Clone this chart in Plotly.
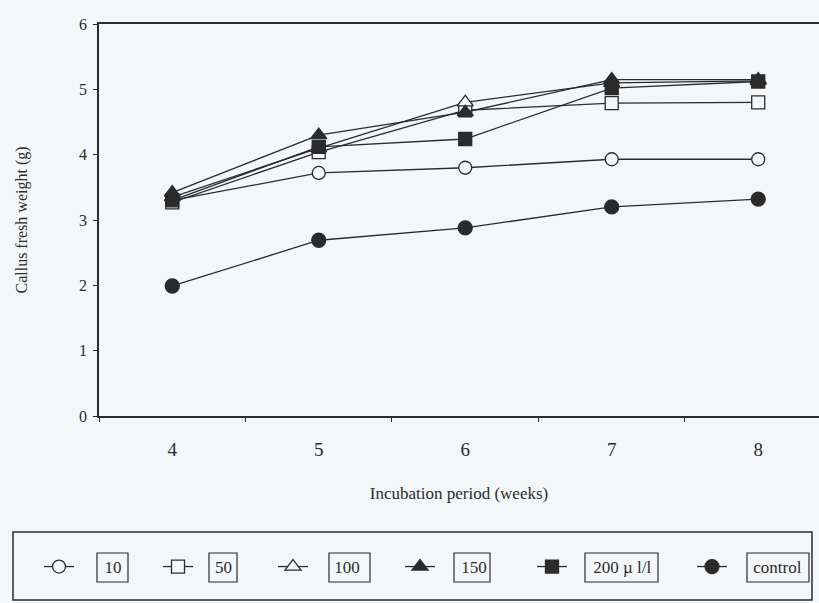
import plotly.graph_objects as go

# ---- data ----
weeks = ["4", "5", "6", "7", "8"]
s10 = [3.30, 3.72, 3.80, 3.93, 3.93]
s50 = [3.27, 4.04, 4.68, 4.79, 4.80]
s100 = [3.35, 4.10, 4.80, 5.10, 5.13]
s150 = [3.42, 4.30, 4.65, 5.15, 5.15]
s200 = [3.30, 4.12, 4.24, 5.02, 5.12]
control = [1.99, 2.69, 2.88, 3.20, 3.32]
labels = ["10", "50", "100", "150", "200 \u00b5 l/l", "control"]
y_ticks = [0, 1, 2, 3, 4, 5, 6]

W, H = 819, 603
ML, MR, MT, MB = 99, 0, 24, 187
PW, PH = W - ML - MR, H - MT - MB
BG = "#f4f7f9"
INK = "#2b2b2b"
FONT = "Liberation Serif"


def px_x(px):
    return (px - ML) / PW


def px_y(py):
    return (H - MB - py) / PH


series = [s10, s50, s100, s150, s200, control]
symbols = ["circle-open", "square-open", "triangle-up-open", "triangle-up", "square", "circle"]
msizes = [13, 13, 14, 14, 13, 14]
lwidths = [74, 70, 82, 87, 115, 70]
pads = [6, 4, 5, 5, 5, 5]

fig = go.Figure()
for vals, lab, sym, ms, lw, pd_ in zip(series, labels, symbols, msizes, lwidths, pads):
    is_open = sym.endswith("-open")
    fig.add_trace(go.Scatter(
        x=weeks, y=vals, name="\u00a0" * pd_ + lab, mode="lines+markers",
        line=dict(color=INK, width=1.3),
        marker=dict(symbol=sym.replace("-open", ""), size=ms,
                    color=BG if is_open else INK,
                    line=dict(color=INK, width=1.3)),
        legendwidth=lw,
    ))

# boxes around legend labels (pixel extents) and outer legend frame
label_boxes = [(97, 128), (209, 237), (329, 370), (454, 490), (585, 658), (747, 809)]
shapes = [dict(type="rect", xref="paper", yref="paper",
               x0=px_x(a), x1=px_x(b), y0=px_y(582), y1=px_y(553),
               line=dict(color=INK, width=1.2), fillcolor="rgba(0,0,0,0)")
          for a, b in label_boxes]
shapes.append(dict(type="rect", xref="paper", yref="paper",
                   x0=px_x(13), x1=px_x(812), y0=px_y(600), y1=px_y(532),
                   line=dict(color=INK, width=1.5), fillcolor="rgba(0,0,0,0)"))

fig.update_layout(
    width=W, height=H,
    margin=dict(l=ML, r=MR, t=MT, b=MB, autoexpand=False),
    paper_bgcolor=BG, plot_bgcolor=BG,
    font=dict(family=FONT, color=INK, size=16),
    showlegend=True,
    legend=dict(orientation="h", x=px_x(39), xanchor="left",
                y=px_y(567), yanchor="middle",
                bgcolor="rgba(0,0,0,0)", borderwidth=0,
                font=dict(family=FONT, size=17, color=INK)),
    shapes=shapes,
    xaxis=dict(type="category", range=[-0.5, 4.415], tickson="boundaries",
               ticks="outside", ticklen=4, tickcolor=INK, tickwidth=1,
               showline=True, linecolor=INK, linewidth=1.5, mirror=True,
               showgrid=False, zeroline=False,
               tickfont=dict(size=19), ticklabelstandoff=15,
               title=dict(text="Incubation period (weeks)", font=dict(size=17),
                          standoff=29),
               automargin=False),
    yaxis=dict(range=[0, 6], tickvals=y_ticks, ticks="outside", ticklen=4,
               tickcolor=INK, tickwidth=1, showline=True, linecolor=INK,
               linewidth=1.5, showgrid=False, zeroline=False,
               tickfont=dict(size=16), ticklabelstandoff=3,
               title=dict(text="Callus fresh weight (g)", font=dict(size=16),
                          standoff=47),
               automargin=False),
)

fig.write_html("out.html", config={"displayModeBar": False},
               post_script="document.body.style.margin='0';"
                           "document.body.style.overflow='hidden';")
